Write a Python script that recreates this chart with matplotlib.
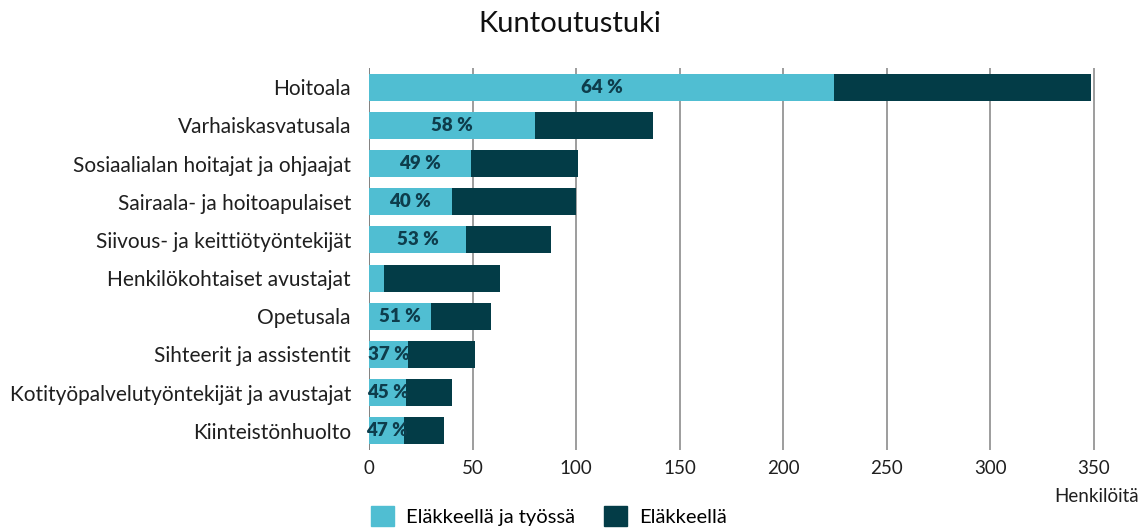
import matplotlib.pyplot as plt
from matplotlib.patches import Patch

plt.rcParams['font.family'] = ['Lato', 'DejaVu Sans']

# arvot luettu kuvasta (henkilöä)
ammatit = ['Hoitoala', 'Varhaiskasvatusala', 'Sosiaalialan hoitajat ja ohjaajat',
           'Sairaala- ja hoitoapulaiset', 'Siivous- ja keittiötyöntekijät',
           'Henkilökohtaiset avustajat', 'Opetusala', 'Sihteerit ja assistentit',
           'Kotityöpalvelutyöntekijät ja avustajat', 'Kiinteistönhuolto']
tyossa = [224.5, 80, 49, 40, 47, 7, 30, 19, 18, 17]
elakkeella = [124, 57, 52, 60, 41, 56, 29, 32, 22, 19]
osuus = ['64 %', '58 %', '49 %', '40 %', '53 %', '', '51 %', '37 %', '45 %', '47 %']

vaalea = '#50BED2'
tumma = '#033C47'
tekstivari = '#1F1F1F'

fig = plt.figure(figsize=(11.46, 5.28), dpi=100)
ax = fig.add_axes([0.322, 0.148, 0.6417, 0.723])

y = list(range(len(ammatit)))
ax.barh(y, tyossa, height=0.71, color=vaalea, zorder=2)
ax.barh(y, elakkeella, left=tyossa, height=0.71, color=tumma, zorder=2)

for i in y:
    if osuus[i]:
        ax.text(tyossa[i] / 2, i, osuus[i], ha='center', va='center',
                fontsize=13.5, fontweight='heavy', color='#0E3D4C', zorder=3)

ax.set_ylim(len(ammatit) - 0.5, -0.5)
ax.set_xlim(0, 355)
ax.set_xticks([0, 50, 100, 150, 200, 250, 300, 350])
ax.set_yticks(y)
ax.set_yticklabels(ammatit, fontsize=15, color=tekstivari)
ax.tick_params(axis='x', labelsize=13.5, colors=tekstivari, length=0, pad=7)
ax.tick_params(axis='y', length=0, pad=13)
ax.grid(axis='x', color='#8C8C8C', linewidth=1.2, zorder=1)
ax.axvline(0, color='#555555', linewidth=1.4, zorder=1)
for s in ax.spines.values():
    s.set_visible(False)

fig.text(0.497, 0.955, 'Kuntoutustuki', ha='center', va='center',
         fontsize=21, color='#111111')
fig.text(0.994, 0.06, 'Henkilöitä', ha='right', va='center',
         fontsize=13.5, color=tekstivari)

kahvat = [Patch(color=vaalea), Patch(color=tumma)]
fig.legend(kahvat, ['Eläkkeellä ja työssä', 'Eläkkeellä'], loc='lower left',
           bbox_to_anchor=(0.308, -0.03), ncol=2, frameon=False,
           fontsize=14.5, handlelength=1.15, handleheight=1.15,
           handletextpad=0.6, columnspacing=1.4)

fig.savefig('out.png', dpi=100)
